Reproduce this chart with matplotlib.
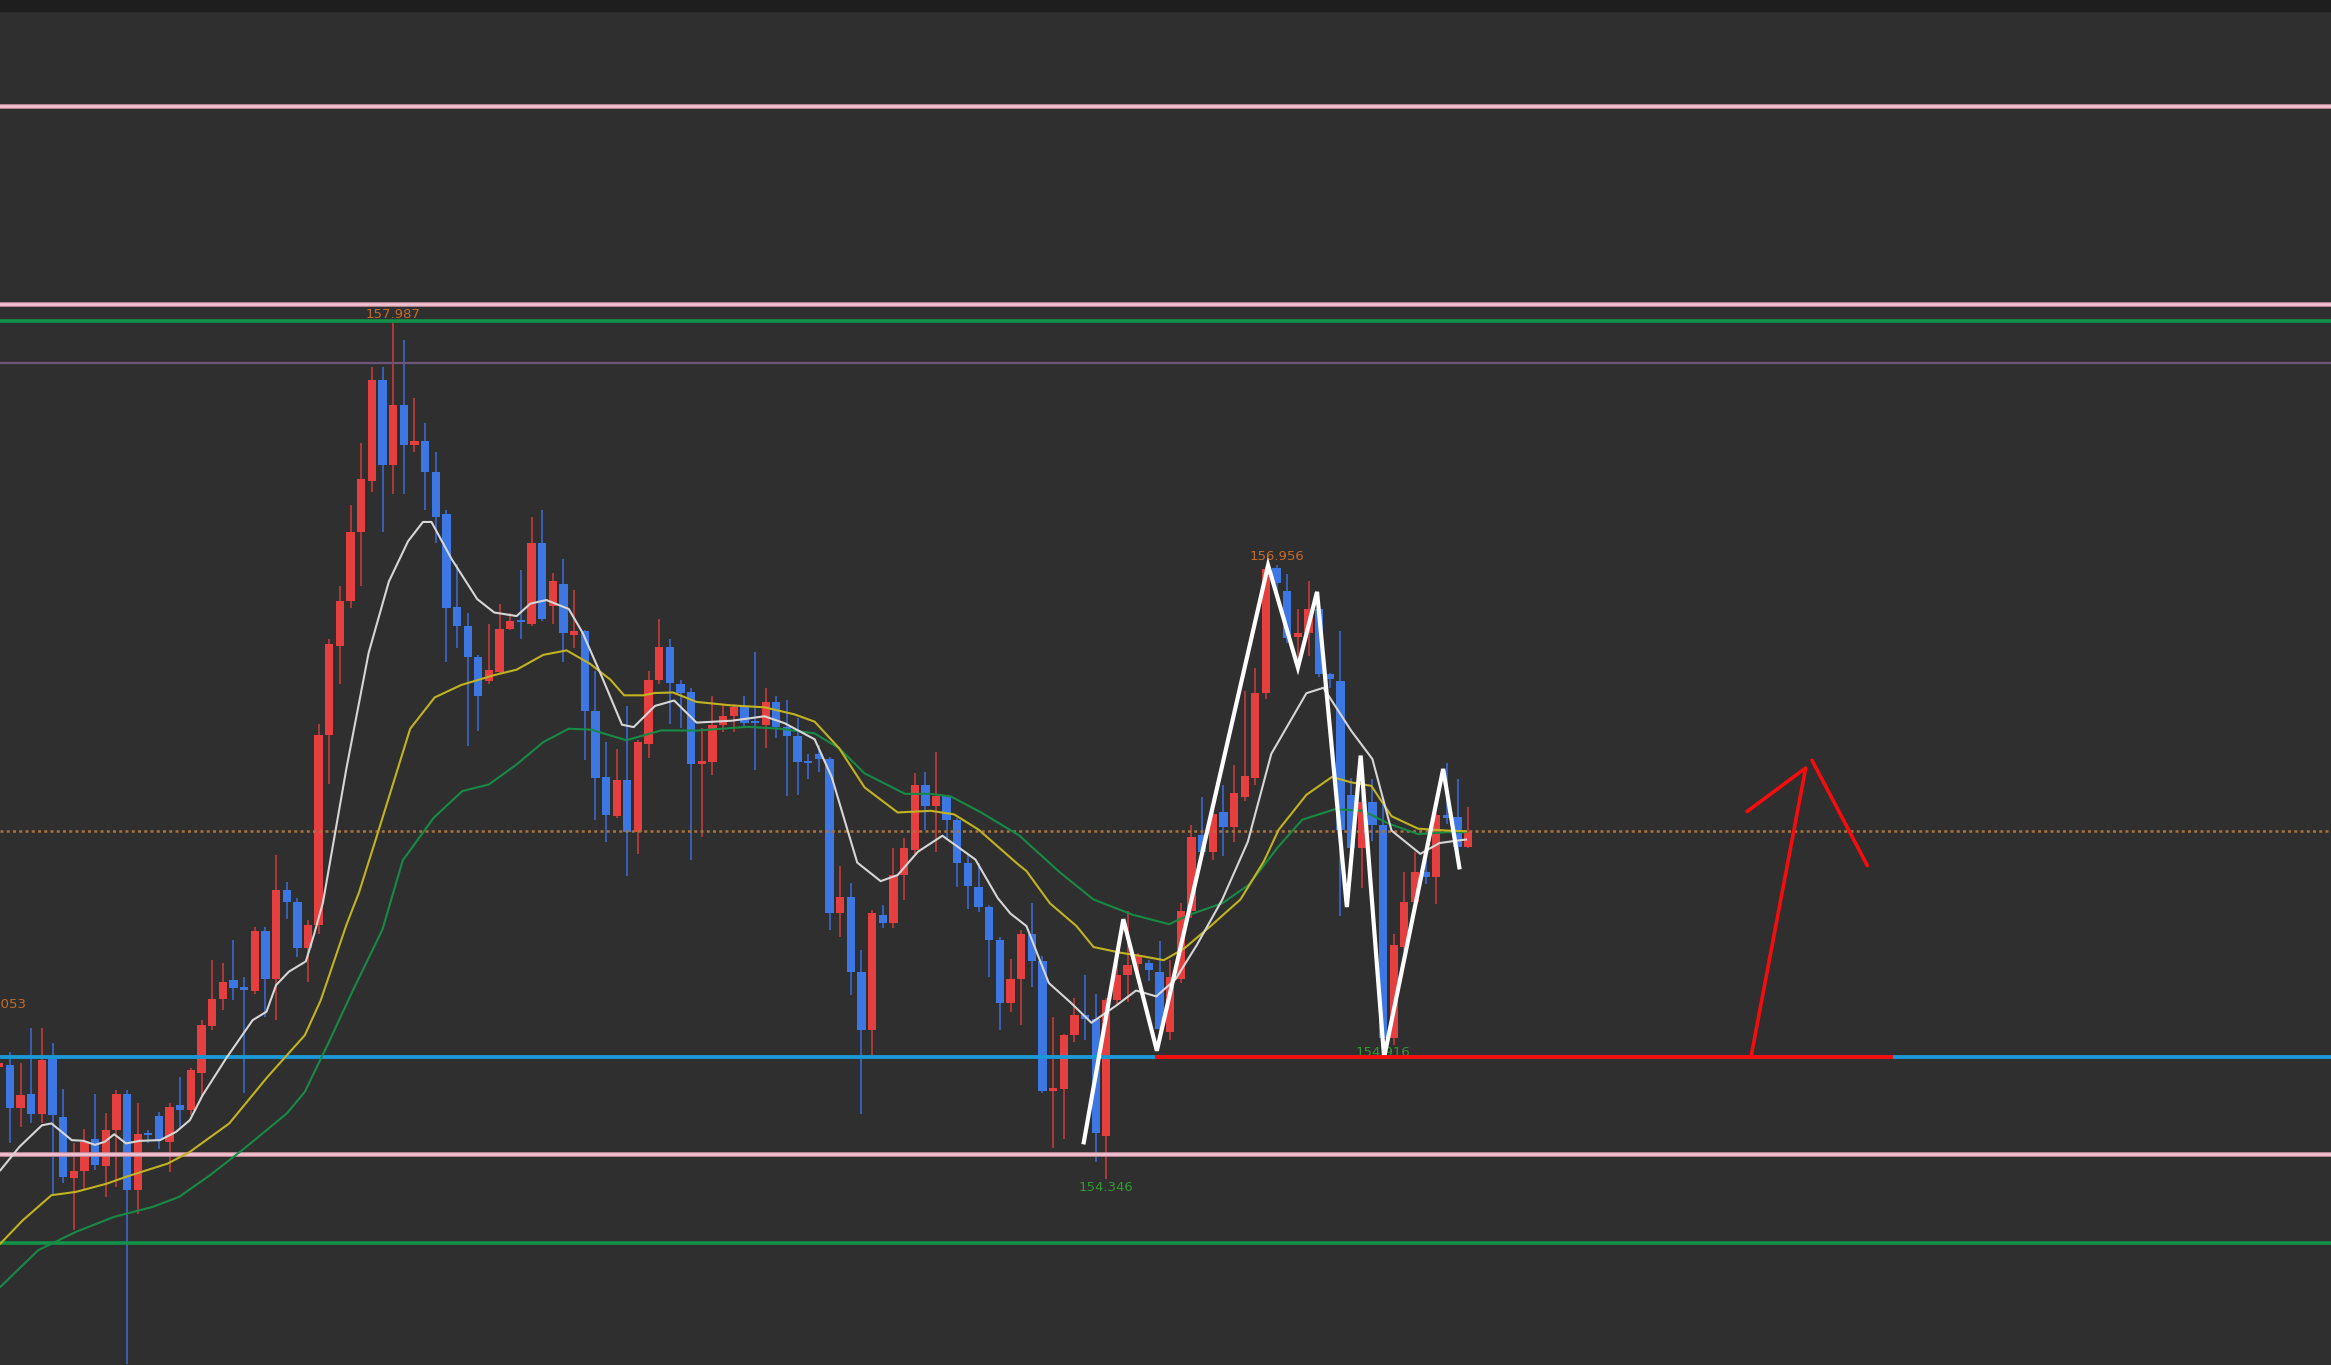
import matplotlib
matplotlib.use("Agg")
import matplotlib.pyplot as plt
import numpy as np
from matplotlib.patches import Rectangle

plt.rcParams.update({
    "font.family": ["DejaVu Sans"],
    "font.size": 9,
})

# --- candles (bar -1 is cut by the left edge) ---
bar_index = list(range(-1, 138))

opens = [
    154.824, 154.831, 154.647, 154.706, 154.625, 154.859, 154.611, 154.353, 154.381, 154.515,
    154.401, 154.554, 154.710, 154.302, 154.543, 154.615, 154.503, 154.661, 154.639, 154.798,
    154.998, 155.114, 155.192, 155.161, 155.148, 155.400, 155.199, 155.577, 155.525, 155.327,
    155.426, 156.233, 156.613, 156.802, 157.096, 157.315, 157.745, 157.381, 157.637, 157.466,
    157.485, 157.353, 157.172, 156.777, 156.698, 156.565, 156.466, 156.504, 156.683, 156.724,
    156.707, 157.049, 156.783, 156.878, 156.660, 156.675, 156.338, 156.056, 155.891, 156.043,
    155.824, 156.195, 156.467, 156.607, 156.451, 156.417, 156.109, 156.120, 156.276, 156.314,
    156.352, 156.291, 156.276, 156.375, 156.268, 156.231, 156.125, 156.155, 156.132, 155.477,
    155.544, 155.225, 154.979, 155.468, 155.434, 155.639, 155.745, 156.023, 155.932, 155.973,
    155.874, 155.692, 155.589, 155.503, 155.362, 155.097, 155.199, 155.390, 155.274, 154.719,
    154.731, 154.957, 155.046, 155.027, 154.531, 155.107, 155.212, 155.260, 155.266, 155.228,
    154.970, 155.196, 155.487, 155.810, 155.737, 155.907, 155.842, 155.972, 156.052, 156.412,
    156.943, 156.848, 156.652, 156.666, 156.769, 156.492, 156.462, 155.980, 155.752, 155.950,
    155.851, 154.948, 155.335, 155.525, 155.654, 155.631, 155.896, 155.886, 155.760,
]
highs = [
    155.053, 154.887, 154.838, 154.987, 154.987, 154.923, 154.731, 154.498, 154.561, 154.710,
    154.628, 154.727, 154.726, 154.668, 154.555, 154.632, 154.668, 154.781, 154.817, 155.022,
    155.277, 155.263, 155.362, 155.206, 155.419, 155.419, 155.723, 155.611, 155.540, 155.447,
    156.281, 156.641, 156.869, 157.210, 157.475, 157.799, 157.799, 157.987, 157.913, 157.666,
    157.561, 157.438, 157.191, 156.963, 156.755, 156.575, 156.707, 156.793, 156.755, 156.935,
    157.163, 157.191, 156.922, 156.982, 156.850, 156.679, 156.508, 156.205, 156.176, 156.357,
    156.214, 156.508, 156.726, 156.641, 156.470, 156.432, 156.262, 156.398, 156.367, 156.367,
    156.398, 156.587, 156.436, 156.398, 156.382, 156.306, 156.155, 156.193, 156.140, 155.677,
    155.604, 155.321, 155.490, 155.510, 155.753, 155.798, 156.072, 156.079, 156.162, 155.980,
    155.882, 155.723, 155.692, 155.510, 155.374, 155.283, 155.406, 155.519, 155.293, 155.035,
    154.962, 155.116, 155.212, 155.132, 155.116, 155.293, 155.487, 155.309, 155.277, 155.358,
    155.277, 155.519, 155.850, 155.971, 155.955, 156.020, 156.108, 156.423, 156.520, 156.951,
    156.956, 156.920, 156.769, 156.890, 156.799, 156.496, 156.678, 156.050, 155.995, 156.048,
    155.946, 155.388, 155.654, 155.737, 155.714, 155.904, 156.116, 156.048, 155.927,
]
lows = [
    154.745, 154.498, 154.568, 154.583, 154.583, 154.285, 154.328, 154.129, 154.299, 154.384,
    154.271, 154.314, 153.560, 154.200, 154.498, 154.476, 154.377, 154.568, 154.618, 154.696,
    154.979, 155.065, 155.107, 154.713, 155.135, 155.035, 155.022, 155.454, 155.291, 155.185,
    155.388, 156.024, 156.451, 156.774, 156.869, 157.267, 157.096, 157.258, 157.258, 157.438,
    157.191, 157.049, 156.546, 156.603, 156.186, 156.252, 156.451, 156.492, 156.679, 156.641,
    156.698, 156.717, 156.707, 156.546, 156.603, 156.129, 155.872, 155.778, 155.882, 155.635,
    155.729, 156.138, 156.451, 156.281, 156.262, 155.701, 155.800, 156.064, 156.246, 156.246,
    156.268, 156.087, 156.178, 156.223, 155.973, 155.980, 156.049, 156.079, 155.404, 155.377,
    155.130, 154.623, 154.865, 155.412, 155.412, 155.533, 155.723, 155.829, 155.738, 155.791,
    155.586, 155.495, 155.480, 155.207, 154.979, 155.055, 155.003, 155.164, 154.712, 154.478,
    154.518, 154.930, 154.938, 154.421, 154.346, 155.083, 155.099, 155.228, 155.188, 154.938,
    154.938, 155.180, 155.455, 155.729, 155.705, 155.721, 155.778, 155.955, 156.020, 156.388,
    156.831, 156.625, 156.526, 156.571, 156.480, 156.435, 155.464, 155.722, 155.585, 155.783,
    154.916, 154.918, 155.314, 155.517, 155.601, 155.517, 155.858, 155.669, 155.752,
]
closes = [
    154.839, 154.647, 154.703, 154.625, 154.852, 154.618, 154.356, 154.381, 154.504, 154.405,
    154.557, 154.710, 154.302, 154.540, 154.533, 154.512, 154.654, 154.639, 154.809, 155.003,
    155.114, 155.185, 155.157, 155.149, 155.400, 155.199, 155.577, 155.525, 155.327, 155.426,
    156.233, 156.622, 156.802, 157.096, 157.324, 157.745, 157.381, 157.637, 157.466, 157.485,
    157.353, 157.163, 156.774, 156.698, 156.565, 156.398, 156.512, 156.683, 156.721, 156.713,
    157.049, 156.726, 156.887, 156.669, 156.675, 156.338, 156.053, 155.896, 156.043, 155.824,
    156.204, 156.470, 156.607, 156.455, 156.413, 156.109, 156.125, 156.276, 156.314, 156.352,
    156.284, 156.284, 156.375, 156.268, 156.231, 156.120, 156.117, 156.132, 155.477, 155.544,
    155.225, 154.979, 155.477, 155.437, 155.639, 155.753, 156.023, 155.932, 155.973, 155.874,
    155.692, 155.594, 155.503, 155.362, 155.097, 155.199, 155.390, 155.274, 154.720, 154.732,
    154.957, 155.043, 155.027, 154.542, 155.107, 155.212, 155.257, 155.295, 155.236, 154.986,
    155.204, 155.487, 155.802, 155.737, 155.898, 155.842, 155.987, 156.059, 156.412, 156.938,
    156.881, 156.647, 156.666, 156.769, 156.492, 156.473, 155.830, 155.752, 155.950, 155.851,
    154.948, 155.343, 155.525, 155.654, 155.630, 155.896, 155.881, 155.760, 155.821,
]

# --- moving averages (bar position, price) ---
ma_fast_x = [-0.9, 0.9, 3.0, 3.9, 5.8, 6.9, 8.0, 8.9, 9.8, 10.9,
             12.2, 14.1, 15.6, 16.9, 18.1, 20.3, 22.8, 24.1, 25.0, 26.2,
             27.8, 28.6, 29.4, 31.6, 33.7, 35.6, 37.4, 38.8, 39.6, 41.5,
             43.9, 45.5, 47.6, 48.9, 50.4, 52.5, 53.8, 55.6, 57.5, 58.6,
             60.6, 62.4, 64.5, 67.8, 70.9, 72.8, 75.6, 77.2, 79.6, 81.8,
             83.4, 85.3, 87.6, 90.7, 92.8, 94.0, 95.5, 97.6, 99.6, 101.6,
             103.9, 105.8, 107.7, 109.5, 111.5, 113.9, 116.3, 118.5, 121.8, 123.4,
             126.0, 128.0, 129.8, 132.5, 134.3, 135.6, 136.8]
ma_fast = [154.384, 154.484, 154.575, 154.583, 154.512, 154.509, 154.492, 154.505, 154.537, 154.498,
           154.509, 154.512, 154.547, 154.597, 154.703, 154.859, 155.022, 155.058, 155.171, 155.228,
           155.272, 155.391, 155.521, 156.090, 156.584, 156.887, 157.058, 157.140, 157.140, 156.982,
           156.812, 156.755, 156.740, 156.793, 156.808, 156.770, 156.669, 156.483, 156.278, 156.268,
           156.358, 156.381, 156.287, 156.295, 156.314, 156.284, 156.216, 156.056, 155.692, 155.613,
           155.639, 155.738, 155.806, 155.705, 155.541, 155.475, 155.422, 155.180, 155.099, 155.011,
           155.083, 155.148, 155.123, 155.196, 155.341, 155.535, 155.781, 156.154, 156.412, 156.435,
           156.253, 156.132, 155.828, 155.729, 155.775, 155.783, 155.790]

ma_mid_x = [-0.9, 1.2, 3.9, 6.2, 9.1, 10.9, 14.8, 16.9, 20.6, 24.2,
            27.7, 29.2, 31.6, 32.8, 34.6, 37.6, 39.9, 42.4, 45.5, 47.6,
            50.1, 52.3, 54.5, 56.4, 57.7, 59.5, 60.6, 62.3, 64.5, 67.8,
            70.9, 73.7, 75.6, 77.9, 80.3, 83.4, 86.5, 88.7, 91.0, 94.7,
            95.5, 97.7, 100.2, 101.8, 104.3, 106.5, 108.4, 110.3, 112.8, 115.6,
            117.8, 119.2, 121.8, 124.2, 126.0, 127.9, 129.8, 132.3, 135.0, 136.8]
ma_mid = [154.072, 154.171, 154.278, 154.292, 154.327, 154.356, 154.412, 154.462, 154.583, 154.781,
          154.958, 155.107, 155.426, 155.566, 155.824, 156.261, 156.394, 156.447, 156.489, 156.512,
          156.575, 156.594, 156.537, 156.470, 156.403, 156.403, 156.413, 156.415, 156.375, 156.360,
          156.352, 156.322, 156.291, 156.178, 156.011, 155.905, 155.912, 155.897, 155.832, 155.685,
          155.656, 155.519, 155.422, 155.333, 155.309, 155.293, 155.277, 155.326, 155.422, 155.535,
          155.697, 155.832, 155.980, 156.056, 156.033, 156.018, 155.889, 155.836, 155.828, 155.825]

ma_slow_x = [-0.9, 2.65, 6.2, 9.8, 13.4, 15.9, 18.8, 22.0, 26.0, 27.7,
             29.9, 32.3, 35.0, 36.9, 39.8, 42.5, 45.0, 47.6, 50.1, 52.5,
             54.6, 57.9, 61.2, 64.5, 69.3, 72.4, 75.6, 77.9, 80.3, 84.1,
             86.5, 88.4, 91.2, 94.8, 98.7, 101.8, 105.5, 108.9, 110.8, 113.9,
             116.4, 119.1, 121.4, 124.5, 127.1, 129.5, 132.3, 135.0, 136.8]
ma_slow = [153.888, 154.044, 154.122, 154.186, 154.228, 154.271, 154.363, 154.476, 154.625, 154.717,
           154.923, 155.156, 155.408, 155.701, 155.882, 155.996, 156.024, 156.109, 156.204, 156.261,
           156.257, 156.212, 156.254, 156.253, 156.269, 156.261, 156.241, 156.178, 156.071, 155.984,
           155.984, 155.973, 155.906, 155.808, 155.648, 155.535, 155.470, 155.430, 155.470, 155.519,
           155.598, 155.756, 155.874, 155.919, 155.912, 155.858, 155.813, 155.821, 155.821]

# --- horizontal levels ---
pink_levels = [158.908, 158.066, 154.451]
green_levels = [157.994, 154.075]
purple_level = 157.814
dotted_level = 155.826
blue_level = 154.866

# --- hand drawn annotations (bar position, price) ---
zigzag_x = [100.85, 104.6, 107.75, 118.2, 121.0, 122.8, 125.6, 126.9, 129.1, 134.65, 136.2]
zigzag_y = [154.494, 155.451, 154.892, 156.956, 156.521, 156.843, 155.503, 156.147, 154.864, 156.090, 155.663]
red_level_x = [107.75, 176.76]
arrow_shaft_x = [163.6, 168.7]
arrow_shaft_y = [154.873, 156.092]
arrow_left_x = [163.2, 168.7]
arrow_left_y = [155.909, 156.094]
arrow_right_x = [169.3, 174.5]
arrow_right_y = [156.127, 155.679]

# high / low price tags: (bar, price, text, is_high)
tags = [(-1, 155.053, "155.053", True),
        (36, 157.987, "157.987", True),
        (119, 156.956, "156.956", True),
        (103, 154.346, "154.346", False),
        (129, 154.916, "154.916", False)]

BG = "#2f2f2f"
UP, DOWN = "#e5403f", "#3c77e4"
UP_WICK, DOWN_WICK = "#b83a3a", "#3a64c2"

fig = plt.figure(figsize=(23.31, 13.65), dpi=100, facecolor=BG)
ax = fig.add_axes([0, 0, 1, 1])
ax.set_facecolor(BG)
ax.set_xlim(-0.936, 218.06)
ax.set_ylim(153.556, 159.359)
ax.axis("off")

x = np.array(bar_index, dtype=float)
o = np.array(opens)
h = np.array(highs)
l = np.array(lows)
c = np.array(closes)
up = c > o
body_lo = np.minimum(o, c)
body_h = np.maximum(np.abs(c - o), 0.008)

ax.vlines(x[up], l[up], h[up], color=UP_WICK, lw=1.3, zorder=2)
ax.vlines(x[~up], l[~up], h[~up], color=DOWN_WICK, lw=1.3, zorder=2)
ax.bar(x[up], body_h[up], bottom=body_lo[up], width=0.78, color=UP, linewidth=0, zorder=3)
ax.bar(x[~up], body_h[~up], bottom=body_lo[~up], width=0.78, color=DOWN, linewidth=0, zorder=3)

# levels
for lv in pink_levels:
    ax.axhline(lv, color="#c8909f", lw=3.4, zorder=4)
    ax.axhline(lv, color="#f3c3d3", lw=1.8, zorder=4)
for lv in green_levels:
    ax.axhline(lv, color="#13934a", lw=2.6, zorder=4)
ax.axhline(purple_level, color="#6f5579", lw=1.6, zorder=4)
ax.axhline(dotted_level, color="#a8743e", lw=1.8, linestyle=(0, (1.2, 1.3)), zorder=4)
ax.axhline(blue_level, color="#1b98d6", lw=2.8, zorder=4)

# moving averages
ax.plot(ma_slow_x, ma_slow, color="#178a45", lw=1.5, zorder=5)
ax.plot(ma_mid_x, ma_mid, color="#c2b321", lw=1.5, zorder=5)
ax.plot(ma_fast_x, ma_fast, color="#d6d6d6", lw=1.5, zorder=5)

# tags
for bx, price, txt, is_high in tags:
    if is_high:
        ax.annotate(txt, (bx, price), xytext=(0, 1.5), textcoords="offset points",
                    ha="center", va="bottom", color="#c46a2c", fontsize=9.5,
                    annotation_clip=False, zorder=6)
    else:
        ax.annotate(txt, (bx, price), xytext=(0, -1.0), textcoords="offset points",
                    ha="center", va="top", color="#2f9a2f", fontsize=9.5,
                    annotation_clip=False, zorder=3.5)

# drawings
ax.plot(zigzag_x, zigzag_y, color="white", lw=3.0, solid_joinstyle="miter",
        solid_capstyle="butt", zorder=7)
ax.plot(red_level_x, [blue_level, blue_level], color="#f50d0d", lw=2.8, zorder=8)
for xs, ys in [(arrow_shaft_x, arrow_shaft_y), (arrow_left_x, arrow_left_y),
               (arrow_right_x, arrow_right_y)]:
    ax.plot(xs, ys, color="#f50d0d", lw=2.6, solid_capstyle="round", zorder=8)

# title bar strip of the terminal window
fig.add_artist(Rectangle((0, 1 - 11 / 1365), 1, 11 / 1365, transform=fig.transFigure,
                         color="#1e1e1e", zorder=10))

fig.savefig("out.png", dpi=100, facecolor=BG)
